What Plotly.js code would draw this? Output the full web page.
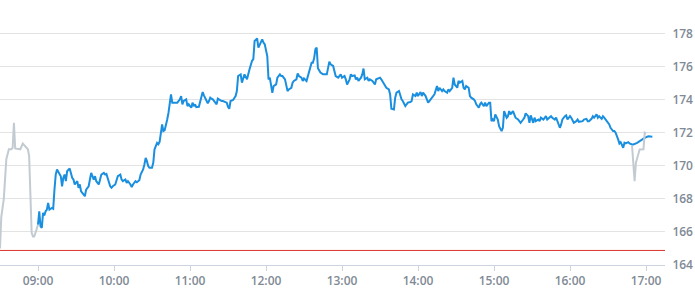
<!DOCTYPE html>
<html>
<head>
<meta charset="utf-8">
<script src="https://cdn.plot.ly/plotly-3.0.1.min.js"></script>
<style>html,body{margin:0;padding:0;background:#fff;}#chart{width:695px;height:300px;}</style>
</head>
<body>
<div id="chart"></div>
<script>
var day = '2024-01-01 ';
var prevClose = 164.88;

var preTimes = ['08:30','08:31','08:33','08:35','08:37','08:39','08:40','08:41','08:42','08:46','08:48','08:50','08:52','08:53','08:54','08:55','08:56','08:57','08:58','08:59','09:00'];
var prePrices = [165.0,166.9,168.0,170.4,171.0,171.0,171.1,172.6,171.05,171.0,171.35,171.15,171.0,170.6,168.4,165.94,165.73,165.73,165.94,166.24,166.44];

var sessTimes = ['09:00','09:01','09:02','09:03','09:04','09:05','09:06','09:07','09:08','09:09','09:11','09:12','09:13','09:14','09:15','09:17','09:18','09:19','09:20','09:21','09:22','09:23','09:24','09:25','09:27','09:28','09:29','09:31','09:32','09:33','09:34','09:36','09:37','09:38','09:40','09:41','09:42','09:44','09:45','09:46','09:48','09:49','09:50','09:52','09:53','09:54','09:55','09:57','09:58','09:59',
'10:01','10:02','10:03','10:05','10:06','10:07','10:09','10:10','10:11','10:13','10:14','10:15','10:17','10:18','10:20','10:21','10:23','10:24','10:25','10:26','10:27','10:28','10:30','10:31','10:32','10:34','10:35','10:36','10:38','10:39','10:40','10:42','10:43','10:45','10:46','10:48','10:50','10:52','10:53','10:54','10:55','10:57','10:58','10:59',
'11:01','11:02','11:03','11:04','11:05','11:07','11:08','11:09','11:10','11:11','11:13','11:14','11:15','11:16','11:17','11:18','11:20','11:21','11:22','11:24','11:25','11:26','11:28','11:29','11:30','11:31','11:32','11:34','11:36','11:37','11:38','11:40','11:41','11:42','11:43','11:45','11:46','11:47','11:49','11:50','11:51','11:53','11:54','11:55','11:57','11:58','11:59',
'12:01','12:02','12:03','12:04','12:05','12:06','12:08','12:09','12:11','12:12','12:13','12:15','12:16','12:17','12:18','12:20','12:21','12:22','12:24','12:25','12:26','12:28','12:29','12:30','12:32','12:33','12:34','12:36','12:37','12:38','12:39','12:40','12:41','12:43','12:45','12:48','12:50','12:51','12:53','12:54','12:55','12:57','12:59',
'13:00','13:02','13:03','13:04','13:06','13:07','13:08','13:10','13:11','13:12','13:13','13:15','13:16','13:17','13:18','13:20','13:21','13:22','13:24','13:25','13:26','13:27','13:29','13:30','13:31','13:33','13:34','13:35','13:37','13:38','13:39','13:41','13:42','13:43','13:45','13:46','13:47','13:48','13:50','13:51','13:52','13:54','13:55','13:56','13:58','13:59',
'14:00','14:02','14:03','14:04','14:06','14:07','14:08','14:10','14:11','14:12','14:13','14:15','14:16','14:17','14:19','14:20','14:21','14:23','14:24','14:25','14:27','14:28','14:29','14:31','14:32','14:33','14:35','14:36','14:37','14:38','14:40','14:41','14:42','14:44','14:45','14:46','14:48','14:49','14:50','14:52','14:53','14:54','14:56','14:57','14:58','14:59',
'15:00','15:01','15:03','15:04','15:06','15:07','15:08','15:10','15:11','15:12','15:13','15:15','15:16','15:17','15:19','15:20','15:21','15:23','15:24','15:25','15:27','15:28','15:29','15:31','15:32','15:33','15:35','15:36','15:37','15:39','15:40','15:41','15:42','15:44','15:45','15:46','15:48','15:49','15:50','15:52','15:53','15:54','15:56','15:57','15:58',
'16:00','16:01','16:02','16:03','16:05','16:06','16:07','16:09','16:10','16:11','16:13','16:14','16:15','16:17','16:18','16:19','16:21','16:22','16:23','16:25','16:26','16:27','16:28','16:30','16:31','16:32','16:34','16:35','16:36','16:38','16:39','16:40','16:42','16:43','16:44','16:46','16:47','16:49','16:50','16:53','16:55','16:58','17:01','17:02','17:05'];
var sessPrices = [166.44,167.25,166.34,166.24,167.15,166.99,167.25,167.35,167.76,167.35,167.45,167.40,168.56,169.47,169.78,169.47,169.37,168.76,169.27,169.47,169.07,169.67,169.78,169.84,169.27,169.17,168.87,169.07,168.67,168.87,168.46,168.26,168.16,168.56,168.76,169.17,169.57,169.17,169.37,169.07,168.87,169.17,169.47,169.57,169.47,169.51,169.27,168.76,168.67,168.76,
168.87,169.07,169.37,169.47,169.17,169.07,169.17,168.97,169.07,168.87,168.72,168.87,169.07,169.01,169.13,169.47,169.78,170.08,170.48,170.28,169.98,169.88,169.88,170.18,171.0,171.39,171.3,171.45,172.5,172.1,172.15,172.8,173.2,174.32,173.82,173.82,173.82,174.02,174.22,173.72,173.92,174.02,173.61,173.72,
173.51,173.82,173.61,173.72,173.55,173.57,173.92,174.22,174.46,174.26,173.92,173.78,173.92,174.12,174.06,174.02,173.82,173.72,174.06,173.96,173.92,173.92,173.86,173.82,173.57,173.45,173.92,173.98,174.22,174.52,175.43,175.53,175.03,175.33,175.53,175.23,175.64,175.84,176.35,176.45,177.55,177.7,177.15,177.3,177.65,177.45,177.35,
176.64,175.23,175.33,174.82,174.42,174.82,174.92,175.33,175.53,175.43,175.43,175.23,174.82,174.52,174.62,174.72,175.03,175.13,175.23,175.59,175.43,175.33,175.13,175.28,175.13,175.43,175.64,176.24,176.24,176.5,177.05,177.15,175.9,175.64,175.53,175.53,176.3,176.14,176.04,175.74,175.43,175.33,175.53,
175.33,175.43,175.23,174.92,175.23,175.53,175.43,175.47,175.23,175.33,175.13,175.33,175.53,175.88,175.23,175.33,175.13,175.23,175.13,175.03,174.92,175.23,175.33,175.33,175.23,174.99,174.92,174.72,174.62,174.32,173.45,173.41,174.12,174.42,174.52,174.22,174.02,173.92,173.61,173.72,173.82,173.86,173.92,174.32,174.22,174.42,
174.22,174.46,174.22,174.42,174.22,174.02,173.82,174.02,174.12,174.22,174.32,174.82,174.52,174.72,174.52,174.62,174.52,174.42,174.62,174.52,174.72,175.33,174.92,174.72,175.13,175.03,175.13,174.72,174.62,174.82,174.72,174.22,174.12,174.02,173.92,173.72,173.51,173.72,173.82,173.61,173.82,173.61,173.82,173.82,172.7,172.8,
172.7,173.11,172.8,172.4,172.1,172.3,173.31,172.91,173.0,173.31,173.11,173.31,173.11,172.91,172.8,172.7,172.6,172.8,172.91,173.17,173.0,172.6,173.05,172.6,172.91,172.7,172.8,172.7,172.91,172.8,172.91,173.0,172.8,172.91,173.0,172.91,172.8,172.91,172.7,172.3,172.5,172.8,173.0,173.05,172.8,
173.0,172.91,172.7,172.6,172.7,172.8,172.66,172.7,172.7,172.8,172.84,172.7,172.7,172.84,173.0,172.91,173.11,172.91,173.0,172.84,173.0,172.91,172.8,172.6,172.5,172.3,172.1,172.1,172.0,171.6,171.35,171.43,171.09,171.39,171.35,171.43,171.35,171.29,171.29,171.39,171.5,171.64,171.76,171.78,171.76];

var postTimes = ['16:49','16:51','16:52','16:55','16:58','16:59','17:00'];
var postPrices = [171.2,169.07,170.18,170.99,171.0,172.0,171.95];

var xStart = '08:30', xEnd = '17:15';
var yMin = 164, yMax = 179, yStep = 2;

function d(arr){ return arr.map(function(t){ return day + t; }); }

var traces = [
  {x: d(preTimes), y: prePrices, type: 'scatter', mode: 'lines', line: {color: '#c3cbd2', width: 2}, hoverinfo: 'skip'},
  {x: d(sessTimes), y: sessPrices, type: 'scatter', mode: 'lines', line: {color: '#1a8fdf', width: 2}, hoverinfo: 'skip'},
  {x: d(postTimes), y: postPrices, type: 'scatter', mode: 'lines', line: {color: '#c3cbd2', width: 2}, hoverinfo: 'skip'}
];

var tickFont = {family: 'Open Sans, sans-serif', size: 12, color: '#7f8a96', weight: 600};

var layout = {
  width: 695, height: 300,
  margin: {l: 0, r: 30, t: 17, b: 35},
  paper_bgcolor: '#ffffff', plot_bgcolor: '#ffffff',
  showlegend: false,
  hovermode: false,
  xaxis: {
    type: 'date',
    range: [day + xStart, day + xEnd],
    tickformat: '%H:%M',
    dtick: 3600000,
    tick0: day + '09:00',
    showgrid: false,
    zeroline: false,
    showline: true, linecolor: '#ccd5df', linewidth: 1,
    ticks: 'outside', ticklen: 5, tickcolor: '#ccd5df', tickwidth: 1,
    tickfont: tickFont
  },
  yaxis: {
    side: 'right',
    range: [yMin, yMax],
    tick0: yMin, dtick: yStep,
    showgrid: true, gridcolor: '#e3e3e3', gridwidth: 1,
    zeroline: false, showline: false,
    ticks: 'outside', ticklen: 4, tickcolor: 'rgba(0,0,0,0)',
    tickfont: tickFont
  },
  shapes: [{
    type: 'line', xref: 'paper', x0: 0, x1: 1, yref: 'y', y0: prevClose, y1: prevClose,
    line: {color: '#d9342b', width: 1}
  }]
};

Plotly.newPlot('chart', traces, layout, {displayModeBar: false, staticPlot: true});
</script>
</body>
</html>
